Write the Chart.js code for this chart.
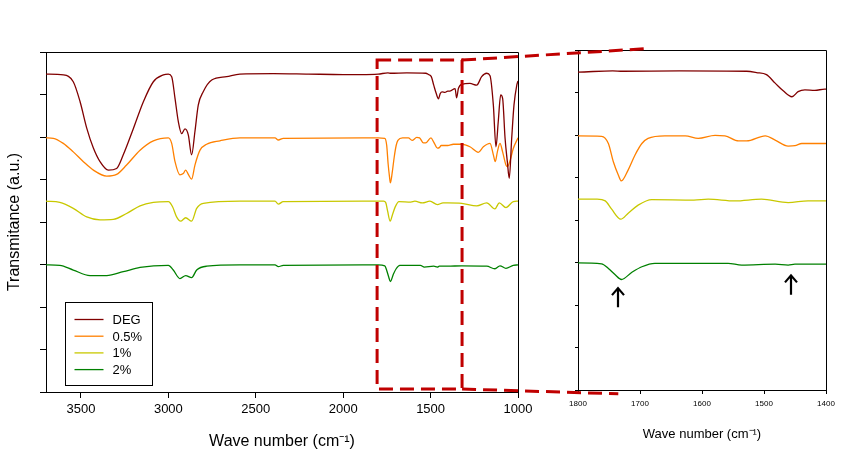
<!DOCTYPE html>
<html>
<head>
<meta charset="utf-8">
<script src="https://cdn.jsdelivr.net/npm/chart.js@4.4.1/dist/chart.umd.min.js"></script>
<style>
  html, body { margin: 0; padding: 0; background: #fff; }
  #wrap { position: relative; width: 849px; height: 454px; }
  #wrap canvas { position: absolute; left: 0; top: 0; }
</style>
</head>
<body>
<div id="wrap">
  <canvas id="mainChart" width="849" height="454"></canvas>
  <canvas id="zoomChart" width="849" height="454"></canvas>
</div>
<script>
// Series names + colours
const seriesNames = ['DEG', '0.5%', '1%', '2%'];
const seriesColors = ['#800000', '#ff8000', '#c8c800', '#008000'];

// Spectra (wave number, offset transmittance)
const degWn = [3700,3600,3544,3505,3467,3429,3391,3343,3296,3258,3200,3143,3086,3029,3000,2981,2962,2943,2924,2905,2886,2867,2848,2829,2800,2752,2667,2591,2400,2200,2000,1900,1800,1744,1728,1636,1528,1512,1496,1482,1469,1455,1445,1434,1418,1402,1389,1360,1351,1341,1322,1275,1236,1208,1179,1160,1141,1126,1113,1099,1088,1074,1061,1050,1036,1023,1007,1000];
const degT = [7.48,7.46,7.30,6.83,6.21,5.74,5.42,5.22,5.26,5.58,6.20,6.83,7.30,7.46,7.48,7.42,6.91,6.36,6.08,6.19,6.05,5.58,6.13,6.75,7.07,7.34,7.42,7.48,7.49,7.48,7.47,7.47,7.48,7.51,7.50,7.51,7.50,7.47,7.42,7.22,7.04,6.90,7.02,7.06,7.05,7.08,7.08,7.14,6.92,7.14,7.24,7.26,7.22,7.42,7.50,7.44,6.75,5.77,6.36,6.99,6.91,5.97,5.42,5.03,5.97,6.75,7.22,7.32];

const p05Wn = [3700,3658,3601,3544,3486,3429,3353,3296,3239,3162,3086,3000,2981,2962,2934,2915,2901,2886,2867,2848,2819,2781,2705,2591,2390,2371,2343,1800,1762,1751,1743,1735,1730,1719,1708,1697,1687,1660,1627,1606,1579,1563,1541,1528,1498,1482,1461,1450,1439,1402,1370,1322,1275,1227,1198,1160,1141,1130,1118,1103,1088,1069,1060,1045,1027,1000];
const p05T = [5.98,5.97,5.85,5.65,5.42,5.22,5.08,5.12,5.34,5.69,5.91,5.98,5.85,5.42,5.11,5.14,5.22,5.12,5.01,5.34,5.69,5.83,5.91,5.98,5.98,5.93,5.97,5.98,5.97,5.80,5.37,5.06,4.92,5.18,5.53,5.80,5.92,5.98,5.98,5.92,5.99,5.98,5.86,5.86,5.98,5.88,5.74,5.75,5.80,5.80,5.83,5.83,5.77,5.64,5.77,5.85,5.58,5.42,5.65,5.85,5.65,5.34,5.30,5.45,5.73,5.98];

const p1Wn = [3700,3621,3544,3467,3391,3315,3239,3162,3086,3000,2976,2953,2930,2901,2867,2838,2800,2591,2390,2371,2343,1800,1769,1756,1746,1731,1719,1703,1681,1613,1590,1547,1504,1461,1429,1402,1322,1236,1179,1132,1107,1069,1027,1000];
const p1T = [4.49,4.46,4.32,4.12,4.05,4.06,4.20,4.38,4.46,4.48,4.36,4.12,4.02,4.10,4.02,4.32,4.44,4.49,4.49,4.42,4.48,4.49,4.49,4.45,4.26,4.02,4.16,4.35,4.48,4.47,4.49,4.45,4.49,4.41,4.45,4.45,4.44,4.38,4.45,4.31,4.45,4.34,4.48,4.49];

const p2Wn = [3700,3621,3544,3448,3353,3258,3162,3000,2972,2934,2901,2867,2838,2781,2591,2390,2371,2343,1800,1762,1751,1740,1730,1713,1697,1676,1558,1536,1482,1461,1450,1402,1322,1179,1132,1103,1069,1027,1000];
const p2T = [2.99,2.98,2.87,2.74,2.74,2.83,2.93,2.98,2.87,2.67,2.74,2.69,2.87,2.96,2.99,2.99,2.95,2.98,2.99,2.97,2.86,2.71,2.60,2.77,2.90,2.98,2.98,2.94,2.96,2.94,2.96,2.96,2.97,2.96,2.90,2.97,2.91,2.98,2.99];

// Axis ticks
const mainTicks = [3500, 3000, 2500, 2000, 1500, 1000];
const zoomTicks = [1800, 1700, 1600, 1500, 1400];
const yTicks = [0, 1, 2, 3, 4, 5, 6, 7, 8];

// Zoom box and arrow marks (wave number / transmittance)
const boxWn = [1806, 1320];
const boxT = [0.07, 7.81];
const arrowWn = [1735, 1456];
const arrowT = [[1.95, 2.42], [2.24, 2.72]];

const FONT = 'Arial, "Liberation Sans", sans-serif';
Chart.defaults.font.family = FONT;
Chart.defaults.color = '#000';

const toPoints = (wn, t) => wn.map((w, i) => ({ x: w, y: t[i] }));
const allSeries = [[degWn, degT], [p05Wn, p05T], [p1Wn, p1T], [p2Wn, p2T]];

function makeDatasets() {
    return allSeries.map((s, i) => ({
        label: seriesNames[i],
        data: toPoints(s[0], s[1]),
        borderColor: seriesColors[i],
        borderWidth: 1.3,
        pointRadius: 0,
        cubicInterpolationMode: 'monotone',
        fill: false
    }));
}

function yAxis(width, tickLen) {
    return {
        type: 'linear',
        min: 0,
        max: 8,
        afterBuildTicks: (scale) => { scale.ticks = yTicks.map(v => ({ value: v })); },
        afterFit: (scale) => { scale.width = width; },
        ticks: { display: false },
        grid: { drawOnChartArea: false, drawTicks: true, tickLength: tickLen, color: '#000', lineWidth: 1 },
        border: { display: true, color: '#000', width: 1 }
    };
}

// Frame: top + right sides of the plot box
const framePlugin = {
    id: 'frame',
    afterDraw: (chart) => {
        const { ctx, chartArea: a } = chart;
        ctx.save();
        ctx.strokeStyle = '#000';
        ctx.lineWidth = 1;
        ctx.beginPath();
        ctx.moveTo(Math.round(a.left) + 0.5, Math.round(a.top) + 0.5);
        ctx.lineTo(Math.round(a.right) + 0.5, Math.round(a.top) + 0.5);
        ctx.lineTo(Math.round(a.right) + 0.5, Math.round(a.bottom) + 0.5);
        ctx.stroke();
        ctx.restore();
    }
};

// Boxed legend, bottom left of main panel
const legendPlugin = {
    id: 'boxLegend',
    afterDraw: (chart) => {
        const { ctx, chartArea: a } = chart;
        const x = Math.round(a.left) + 19.5;
        const y = Math.round(a.bottom) - 89.5;
        ctx.save();
        ctx.strokeStyle = '#000';
        ctx.lineWidth = 1;
        ctx.strokeRect(x, y, 87, 83);
        ctx.font = '13px ' + FONT;
        ctx.textBaseline = 'middle';
        ctx.fillStyle = '#000';
        seriesNames.forEach((name, i) => {
            const ry = y + 17 + i * 16.7;
            ctx.strokeStyle = seriesColors[i];
            ctx.lineWidth = 1.3;
            ctx.beginPath();
            ctx.moveTo(x + 9, ry);
            ctx.lineTo(x + 38, ry);
            ctx.stroke();
            ctx.fillText(name, x + 47, ry + 1);
        });
        ctx.restore();
    }
};

const mainChart = new Chart(document.getElementById('mainChart'), {
    type: 'line',
    data: { datasets: makeDatasets() },
    options: {
        responsive: false,
        animation: false,
        devicePixelRatio: 1,
        layout: { padding: { left: 0, top: 52, right: 331, bottom: 0 } },
        plugins: { legend: { display: false }, tooltip: { enabled: false } },
        scales: {
            x: {
                type: 'linear',
                reverse: true,
                min: 1000,
                max: 3700,
                afterBuildTicks: (scale) => { scale.ticks = mainTicks.map(v => ({ value: v })); },
                afterFit: (scale) => { scale.height = 62; },
                ticks: { font: { size: 13 }, maxRotation: 0, padding: 4, callback: (v) => String(v) },
                grid: { drawOnChartArea: false, drawTicks: true, tickLength: 6, color: '#000', lineWidth: 1 },
                border: { display: true, color: '#000', width: 1 },
                title: { display: true, text: 'Wave number (cm\u207B\u00B9)', font: { size: 16 }, padding: { top: 0, bottom: 3 } }
            },
            y: Object.assign(yAxis(46, 6), {
                title: { display: true, text: 'Transmitance (a.u.)', font: { size: 16 }, padding: { top: 5, bottom: 0 } }
            })
        }
    },
    plugins: [framePlugin, legendPlugin]
});

// Dashed zoom box, connectors and arrows (drawn over both panels)
const overlayPlugin = {
    id: 'zoomOverlay',
    afterDraw: (chart) => {
        const { ctx } = chart;
        const mx = mainChart.scales.x, my = mainChart.scales.y;
        const zx = chart.scales.x, zy = chart.scales.y;
        const x0 = mx.getPixelForValue(boxWn[0]), x1 = mx.getPixelForValue(boxWn[1]);
        const y0 = my.getPixelForValue(boxT[1]), y1 = my.getPixelForValue(boxT[0]);
        ctx.save();
        ctx.strokeStyle = '#c00000';
        ctx.lineWidth = 3;
        ctx.setLineDash([14, 7]);
        ctx.strokeRect(x0, y0, x1 - x0, y1 - y0);
        ctx.beginPath();
        ctx.moveTo(x1, y0);
        ctx.lineTo(zx.getPixelForValue(1692), zy.getPixelForValue(8.03));
        ctx.moveTo(x1, y1);
        ctx.lineTo(zx.getPixelForValue(1735), zy.getPixelForValue(-0.09));
        ctx.stroke();
        ctx.setLineDash([]);
        // arrows
        ctx.strokeStyle = '#000';
        ctx.lineWidth = 2.2;
        arrowWn.forEach((w, i) => {
            const ax = Math.round(zx.getPixelForValue(w));
            const yb = zy.getPixelForValue(arrowT[i][0]);
            const yt = zy.getPixelForValue(arrowT[i][1]);
            ctx.beginPath();
            ctx.moveTo(ax, yb);
            ctx.lineTo(ax, yt + 1);
            ctx.moveTo(ax - 6, yt + 8);
            ctx.lineTo(ax, yt + 1);
            ctx.lineTo(ax + 6, yt + 8);
            ctx.stroke();
        });
        ctx.restore();
    }
};

const zoomChart = new Chart(document.getElementById('zoomChart'), {
    type: 'line',
    data: { datasets: makeDatasets() },
    options: {
        responsive: false,
        animation: false,
        devicePixelRatio: 1,
        layout: { padding: { left: 560, top: 50, right: 23, bottom: 0 } },
        plugins: { legend: { display: false }, tooltip: { enabled: false } },
        scales: {
            x: {
                type: 'linear',
                reverse: true,
                min: 1400,
                max: 1800,
                afterBuildTicks: (scale) => { scale.ticks = zoomTicks.map(v => ({ value: v })); },
                afterFit: (scale) => { scale.height = 64; },
                ticks: { font: { size: 8 }, maxRotation: 0, padding: 5, callback: (v) => String(v) },
                grid: { drawOnChartArea: false, drawTicks: true, tickLength: 4, color: '#000', lineWidth: 1 },
                border: { display: true, color: '#000', width: 1 },
                title: { display: true, text: 'Wave number (cm\u207B\u00B9)', font: { size: 13 }, padding: { top: 0, bottom: 12 } }
            },
            y: yAxis(18, 3)
        }
    },
    plugins: [framePlugin, overlayPlugin]
});
</script>
</body>
</html>
